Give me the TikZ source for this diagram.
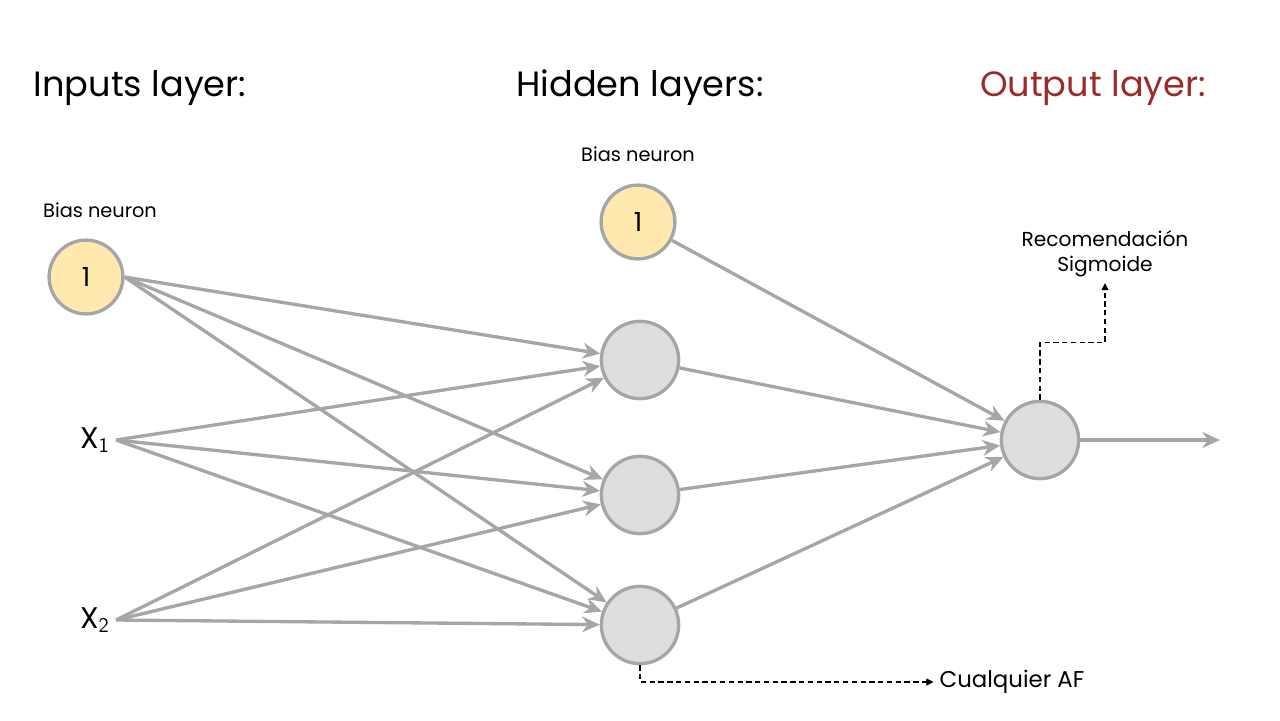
\documentclass[tikz,border=0pt]{standalone}
\usepackage{fontspec}
\setmainfont{Poppins}
\usetikzlibrary{arrows.meta}
\definecolor{edgegray}{HTML}{A6A6A6}
\definecolor{cellgray}{HTML}{DEDEDE}
\definecolor{biasyellow}{HTML}{FFE9AE}
\definecolor{outred}{HTML}{9B2B2B}
\tikzset{>/.tip={Stealth[length=10pt,width=9pt]},
  neuron/.style={circle, draw=edgegray, line width=1.9pt, fill=cellgray, minimum size=44pt, inner sep=0pt},
  biasneuron/.style={neuron, fill=biasyellow, minimum size=42pt, font=\fontsize{15}{15}\selectfont},
  weight/.style={->, draw=edgegray, line width=1.9pt},
  note/.style={->, densely dashed, line width=0.6pt, >={Triangle[length=4pt,width=4pt]}},
  title/.style={font=\fontsize{20}{20}\selectfont},
  small/.style={font=\fontsize{11}{11}\selectfont}}

\begin{document}
\begin{tikzpicture}[x=0.02cm, y=-0.02cm]
\useasboundingbox (0,0) rectangle (1280,720);
\node[title] (tin) at (140,88) {Inputs layer:};
\node[title] (thid) at (640,88) {Hidden layers:};
\node[title, text=outred] (tout) at (1093,88) {Output layer:};

\node[small] (lb0) at (100,210) {Bias neuron};
\node[small] (lb1) at (638,154) {Bias neuron};

\node[biasneuron] (b0) at (86,277) {1};
\node (x1) at (95,440) {\fontsize{17}{17}\selectfont X$_{\mathsf{1}}$};
\node (x2) at (95,620) {\fontsize{17}{17}\selectfont X$_{\mathsf{2}}$};

\node[biasneuron] (b1) at (638,222) {1};
\node[neuron] (h1) at (640,360) {};
\node[neuron] (h2) at (640,495) {};
\node[neuron] (h3) at (640,625) {};

\node[neuron] (o) at (1040,440) {};
\coordinate (end) at (1220,440);

\foreach \s in {b0,x1,x2}
  \foreach \t in {h1,h2,h3}
    \draw[weight] (\s.east) to (\t);
\foreach \s in {b1,h1,h2,h3}
  \draw[weight] (\s) to (o);
\draw[weight] (o) to (end);

\node[font=\fontsize{13}{13}\selectfont] (af) at (1012,682) {Cualquier AF};
\draw[note] (h3.south) |- (af.west);

\node[font=\fontsize{11.5}{14}\selectfont, align=center] (sig) at (1105,254) {Recomendación\\Sigmoide};
\draw[note] (o.north) -- ++(0,-57) -| (sig.south);
\end{tikzpicture}
\end{document}
